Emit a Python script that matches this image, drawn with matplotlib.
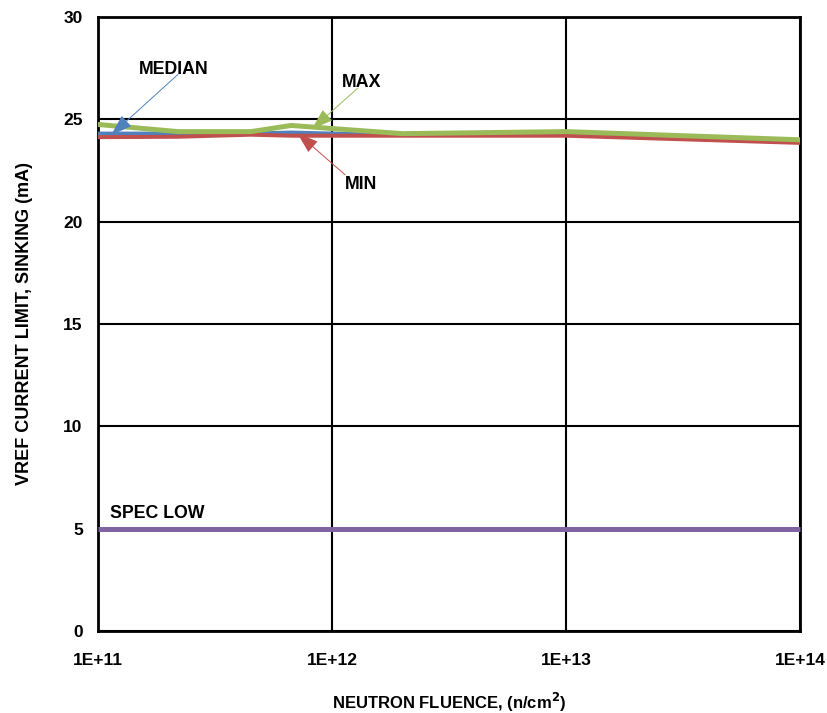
import matplotlib
matplotlib.use("Agg")
import matplotlib.pyplot as plt
from matplotlib.ticker import FixedLocator, FixedFormatter

plt.rcParams['font.family'] = ['Liberation Sans', 'DejaVu Sans']
plt.rcParams['font.weight'] = 'bold'

fluence = [1e11, 2.2e11, 4.5e11, 6.7e11, 1e12, 2e12, 1e13, 1e14]
max_vals = [24.75, 24.4, 24.4, 24.7, 24.55, 24.3, 24.4, 24.0]
median_vals = [24.3, 24.3, 24.3, 24.35, 24.3, 24.25, 24.3, 23.95]
min_vals = [24.13, 24.15, 24.25, 24.2, 24.2, 24.2, 24.2, 23.85]
spec_low = [5, 5]
spec_x = [1e11, 1e14]

xticks = [1e11, 1e12, 1e13, 1e14]
xticklabels = ['1E+11', '1E+12', '1E+13', '1E+14']
yticks = [0, 5, 10, 15, 20, 25, 30]

fig = plt.figure(figsize=(8.28, 7.13), dpi=100)
ax = fig.add_axes([98/828, 1-631/713, (800-98)/828, (631-17)/713])

c_max = '#9BBB59'
c_med = '#4F81BD'
c_min = '#C0504D'
c_spec = '#8064A2'

ax.plot(spec_x, spec_low, color=c_spec, lw=3.6, solid_capstyle='butt', zorder=3, clip_on=False)
ax.plot(fluence, median_vals, color=c_med, lw=3.0, zorder=3)
ax.plot(fluence, min_vals, color=c_min, lw=2.9, zorder=4)
ax.plot(fluence, max_vals, color=c_max, lw=3.6, zorder=5)

ax.set_xscale('log')
ax.set_xlim(1e11, 1e14)
ax.set_ylim(0, 30)
ax.xaxis.set_major_locator(FixedLocator(xticks))
ax.xaxis.set_major_formatter(FixedFormatter(xticklabels))
ax.xaxis.set_minor_locator(FixedLocator([]))
ax.set_yticks(yticks)
ax.grid(True, color='black', lw=1.5)
ax.tick_params(length=0, labelsize=12.5)
ax.tick_params(axis='x', pad=16)
ax.tick_params(axis='y', pad=11)
for s in ax.spines.values():
    s.set_linewidth(2)
    s.set_color('black')

ax.set_xlabel('NEUTRON FLUENCE, (n/cm$^\\mathbf{2}$)', fontsize=12, fontweight='bold', labelpad=16)
ax.set_ylabel('VREF CURRENT LIMIT, SINKING (mA)', fontsize=13, fontweight='bold', labelpad=22)

fs = 12.8
ax.text(2.1e11, 27.2, 'MEDIAN', fontsize=fs, fontweight='bold', ha='center', va='baseline', zorder=6)
ax.text(1.1e12, 26.6, 'MAX', fontsize=fs, fontweight='bold', ha='left', va='baseline', zorder=6)
ax.text(1.14e12, 21.6, 'MIN', fontsize=fs, fontweight='bold', ha='left', va='baseline', zorder=6)
ax.text(1.12e11, 5.5, 'SPEC LOW', fontsize=fs, fontweight='bold', ha='left', va='baseline', zorder=6)

def arrow(tip, start, color):
    ax.annotate('', xy=tip, xytext=start,
                arrowprops=dict(width=0.7, headwidth=10, headlength=15, shrink=0,
                                color=color, lw=0), zorder=7)

arrow((1.137e11, 24.23), (2.2e11, 27.2), c_med)
arrow((8.2e11, 24.52), (1.29e12, 26.53), c_max)
arrow((7.1e11, 24.33), (1.14e12, 22.28), c_min)

fig.savefig('out.png', dpi=100)
